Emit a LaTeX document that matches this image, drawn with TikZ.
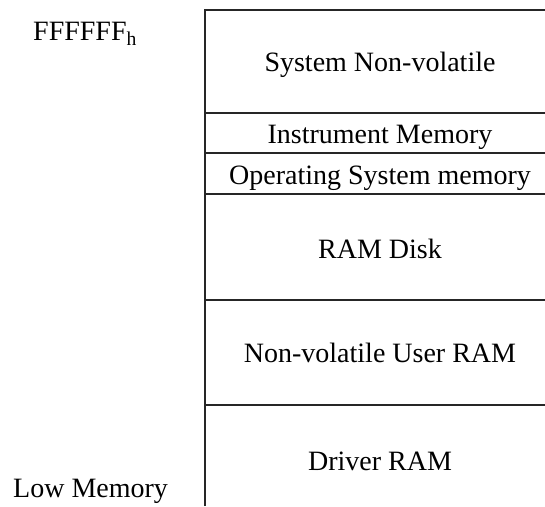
\documentclass[tikz,border=0pt]{standalone}
\usepackage{fontspec}
\setmainfont{Liberation Serif}
\begin{document}
\begin{tikzpicture}[x=1pt,y=-1pt,
  sepline/.style={line width=1.4pt, draw=black!85},
  lbl/.style={font=\fontsize{28}{30}\selectfont, inner sep=0pt, anchor=base},
  side/.style={font=\fontsize{28}{30}\selectfont, inner sep=0pt, anchor=base west}]
\useasboundingbox (0,0) rectangle (545,506);
% box outline (right and bottom run off the page)
\coordinate (tl) at (205,10);
\coordinate (tr) at (545,10);
\coordinate (bl) at (205,506);
\draw[sepline] (bl) -- (tl) -- (tr);
% separators
\foreach \y/\n in {113/a,153/b,194/c,300/d,405/e}{
  \coordinate (\n l) at (205,\y);
  \coordinate (\n r) at (545,\y);
  \draw[sepline] (\n l) -- (\n r);
}
% region labels
\node[lbl] (sys)  at (380,71)  {System Non-volatile};
\node[lbl] (inst) at (380,143) {Instrument Memory};
\node[lbl] (os)   at (380,184) {Operating System memory};
\node[lbl] (rd)   at (380,258) {RAM Disk};
\node[lbl] (nv)   at (380,362) {Non-volatile User RAM};
\node[lbl] (drv)  at (380,470) {Driver RAM};
% side labels
\node[side] (hi) at (33,40)  {FFFFFF\textsubscript{h}};
\node[side] (lo) at (13,497) {Low Memory};
\end{tikzpicture}
\end{document}
